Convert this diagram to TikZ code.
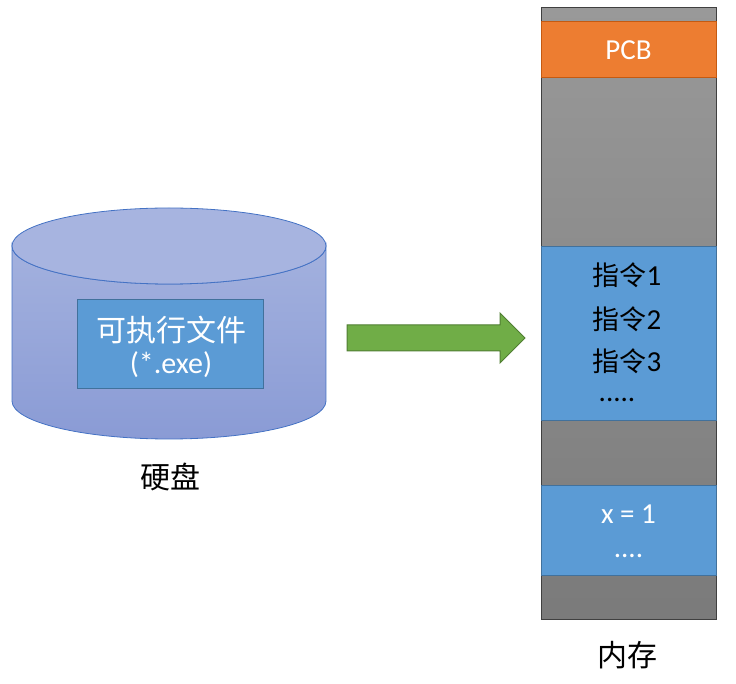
\documentclass[tikz,border=0pt]{standalone}
\usepackage{fontspec}
\setmainfont{Carlito}
\newfontfamily\cjk{Noto Sans CJK SC}
\definecolor{blk}{HTML}{5B9BD5}
\definecolor{blkb}{HTML}{41719C}
\definecolor{org}{HTML}{ED7D31}
\definecolor{orgb}{HTML}{C55A11}
\definecolor{grn}{HTML}{70AD47}
\definecolor{grnb}{HTML}{507E32}
\definecolor{cyl}{HTML}{4472C4}
\definecolor{cyltop}{HTML}{A7B4E0}
\definecolor{cylhi}{HTML}{A3B1DE}
\definecolor{cyllo}{HTML}{8A9BD5}
\tikzset{
  blockbox/.style={draw=blkb, fill=blk, line width=0.8pt, minimum width=175pt, inner sep=0pt, outer sep=0pt},
  wtxt/.style={text=white, inner sep=0pt, anchor=base, font=\fontsize{29}{32}\selectfont},
  btxt/.style={text=black, inner sep=0pt, anchor=base, font=\fontsize{29}{32}\selectfont},
  lbl/.style={text=black, inner sep=0pt, font=\cjk\fontsize{30}{32}\selectfont},
}
\begin{document}
\begin{tikzpicture}[x=1pt,y=1pt]
\useasboundingbox (0,0) rectangle (736,683);
% memory column
\node[draw=black!75, line width=1.2pt, top color=black!40, bottom color=black!52, minimum width=175pt, minimum height=612pt, inner sep=0pt, anchor=south west] (mem) at (541,63) {};
\node[draw=orgb, fill=org, line width=0.8pt, minimum width=175pt, minimum height=56pt, inner sep=0pt, anchor=south west] (pcb) at (541,605) {};
\node[wtxt] (pcbt) at (628.5,623) {PCB};
\node[blockbox, minimum height=174pt, anchor=south west] (instr) at (541,263) {};
\node[btxt] (i1) at (627,397) {{\cjk\fontsize{27}{30}\selectfont 指令}1};
\node[btxt] (i2) at (627,353) {{\cjk\fontsize{27}{30}\selectfont 指令}2};
\node[btxt] (i3) at (627,311) {{\cjk\fontsize{27}{30}\selectfont 指令}3};
\node[btxt] (i4) at (617,281) {.....};
\node[blockbox, minimum height=90pt, anchor=south west] (data) at (541,108) {};
\node[wtxt] (x1) at (628.5,160) {x = 1};
\node[wtxt] (x2) at (628.5,125) {....};
\node[lbl] (memlbl) at (627,28) {内存};
% cylinder
\shade[top color=cylhi, bottom color=cyllo, draw=cyl, line width=0.8pt]
  (12,437) -- (12,282) arc[start angle=180, end angle=360, x radius=157, y radius=38] -- (326,437) arc[start angle=0, end angle=-180, x radius=157, y radius=38] -- cycle;
\draw[cyl, line width=0.8pt, fill=cyltop] (169,437) ellipse[x radius=157, y radius=38];
\node[draw=blkb, fill=blk, line width=1pt, minimum width=186pt, minimum height=89pt, inner sep=0pt, anchor=south west] (exe) at (77,294) {};
\node[text=white, inner sep=0pt, font=\cjk\fontsize{30}{32}\selectfont] (exe1) at (171,353) {可执行文件};
\node[text=white, inner sep=0pt, font=\fontsize{30}{32}\selectfont] (exe2) at (171,318) {(*.exe)};
\node[lbl] (disklbl) at (170,206) {硬盘};
% arrow
\coordinate (as) at (347,345);
\coordinate (at) at (525,345);
\draw[grnb, fill=grn, line width=1pt] (347,332) -- (500,332) -- (500,320) -- (at) -- (500,370) -- (500,358) -- (347,358) -- cycle;
\end{tikzpicture}
\end{document}
